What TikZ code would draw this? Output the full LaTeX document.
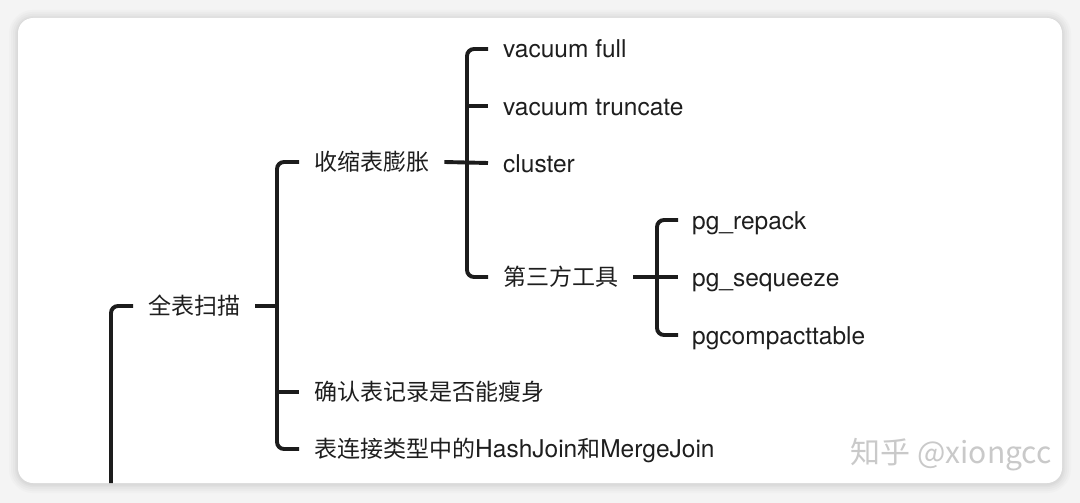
\documentclass[tikz,border=0pt]{standalone}
\usepackage{fontspec}
\setmainfont{TeX Gyre Heros}
\newfontfamily\cjk{Noto Sans CJK SC}
\definecolor{bgc}{HTML}{F4F4F4}
\definecolor{ink}{HTML}{1C1C1C}
\definecolor{txt}{HTML}{1E1E1E}
\definecolor{wm}{HTML}{C9C9C9}
\tikzset{
  wire/.style={line width=3.9pt, draw=ink, rounded corners=7pt, line cap=butt},
  base/.style={anchor=west, inner sep=0pt, text=txt},
  lbl/.style={base, text height=20pt, text depth=2pt, font=\fontsize{24.5}{28}\selectfont},
  zh/.style={base, text height=19pt, text depth=2pt, font=\fontsize{23}{28}\selectfont\cjk},
}
\begin{document}
\begin{tikzpicture}[x=1pt,y=-1pt]
\useasboundingbox (0,0) rectangle (1080,503);
\fill[bgc] (0,0) rectangle (1080,503);
% soft shadow
\foreach \d/\c in {9/F0F0F0,7/EBEBEB,5/E6E6E6,3/E0E0E0,1.5/DADADA}{
  \definecolor{sh}{HTML}{\c}
  \fill[sh, rounded corners=15pt+\d pt] (18-\d,18-\d+1) rectangle (1062+\d,483+\d+1);
}
\fill[white, rounded corners=15pt] (18,18) rectangle (1062,483);
\begin{scope}
\clip[rounded corners=15pt] (18,18) rectangle (1062,483);

% nodes
\node[zh] (q) at (148,306) {全表扫描};
\node[zh] (s) at (314,162) {收缩表膨胀};
\node[zh] (r) at (314,392) {确认表记录是否能瘦身};
\node[base, text height=19pt, text depth=2pt] (j) at (314,449) {{\fontsize{23}{28}\selectfont\cjk 表连接类型中的}{\fontsize{24.5}{28}\selectfont HashJoin}{\fontsize{23}{28}\selectfont\cjk 和}{\fontsize{24.5}{28}\selectfont MergeJoin}};
\node[lbl] (v1) at (503,49) {vacuum full};
\node[lbl] (v2) at (503,106) {vacuum truncate};
\node[lbl] (v3) at (503,163) {cluster};
\node[zh] (t) at (503,277) {第三方工具};
\node[lbl] (p1) at (692,220) {pg\_repack};
\node[lbl] (p2) at (692,277) {pg\_sequeeze};
\node[lbl] (p3) at (692,335) {pgcompacttable};

% coordinates of bracket spines
\coordinate (root) at (111,490);
\coordinate (b1) at (277,306);
\coordinate (b2) at (467,163);
\coordinate (b3) at (657,277);

% root bracket
\draw[wire] (root) |- ([xshift=-15pt]q.west);
% level 1
\draw[wire] ([xshift=15pt]q.east) -- (b1);
\draw[wire] ([xshift=-15pt]s.west) -| (b1) |- ([xshift=-15pt]j.west);
\draw[wire] (b1 |- r.west) -- ([xshift=-15pt]r.west);
% level 2
\draw[wire] ([xshift=15pt]s.east) -- ([xshift=-15pt]v3.west);
\draw[wire] ([xshift=-15pt]v1.west) -| (b2) |- ([xshift=-15pt]t.west);
\draw[wire] (b2 |- v2.west) -- ([xshift=-15pt]v2.west);
% level 3
\draw[wire] ([xshift=15pt]t.east) -- ([xshift=-14pt]p2.west);
\draw[wire] ([xshift=-14pt]p1.west) -| (b3) |- ([xshift=-14pt]p3.west);

% watermark
\node[anchor=east, inner sep=0pt, text=wm, font=\fontsize{30}{32}\selectfont\cjk] (w) at (1052,455) {知乎 @xiongcc};
\end{scope}
\end{tikzpicture}
\end{document}
